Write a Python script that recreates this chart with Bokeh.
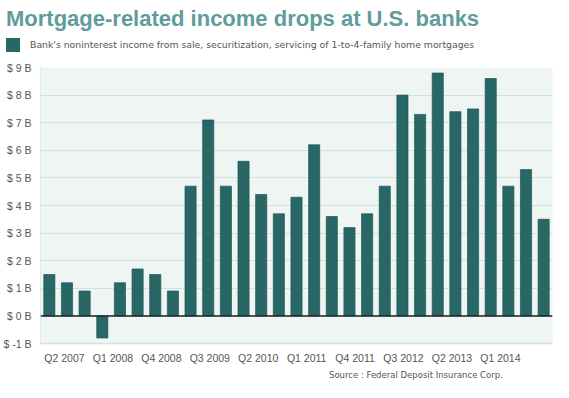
from bokeh.plotting import figure
from bokeh.models import ColumnDataSource, FixedTicker, Span, Div
from bokeh.layouts import column
from bokeh.embed import file_html
from bokeh.resources import INLINE

# ---- data ----
quarters = ["Q1 2007", "Q2 2007", "Q3 2007", "Q4 2007",
            "Q1 2008", "Q2 2008", "Q3 2008", "Q4 2008",
            "Q1 2009", "Q2 2009", "Q3 2009", "Q4 2009",
            "Q1 2010", "Q2 2010", "Q3 2010", "Q4 2010",
            "Q1 2011", "Q2 2011", "Q3 2011", "Q4 2011",
            "Q1 2012", "Q2 2012", "Q3 2012", "Q4 2012",
            "Q1 2013", "Q2 2013", "Q3 2013", "Q4 2013",
            "Q1 2014"]
income_billions = [1.5, 1.2, 0.9, -0.8,
                   1.2, 1.7, 1.5, 0.9,
                   4.7, 7.1, 4.7, 5.6,
                   4.4, 3.7, 4.3, 6.2,
                   3.6, 3.2, 3.7, 4.7,
                   8.0, 7.3, 8.8, 7.4,
                   7.5, 8.6, 4.7, 5.3,
                   3.5]
x_tick_labels = ["Q2 2007", "Q1 2008", "Q4 2008", "Q3 2009", "Q2 2010",
                 "Q1 2011", "Q4 2011", "Q3 2012", "Q2 2013", "Q1 2014"]
y_ticks = [-1, 0, 1, 2, 3, 4, 5, 6, 7, 8, 9]

title_text = "Mortgage-related income drops at U.S. banks"
legend_text = "Bank's noninterest income from sale, securitization, servicing of 1-to-4-family home mortgages"
source_text = "Source : Federal Deposit Insurance Corp."

# ---- layout / style constants ----
TICK_START = 0.86
TICK_STEP = 2.743
BAR = "#296666"
BG = "#eef5f2"
GRID = "#cfe3e0"
TEXT = "#555555"
W = 569

header = Div(
    text=(
        f'<div style="position:relative;width:{W}px;height:60px;">'
        f'<div style="position:absolute;left:6px;top:8px;white-space:nowrap;'
        f'font-family:\'Liberation Sans\',Arial,sans-serif;font-weight:bold;'
        f'font-size:22px;line-height:22px;color:#5f9c9c;">{title_text}</div>'
        f'<div style="position:absolute;left:6px;top:38px;width:14px;height:14px;'
        f'background:{BAR};"></div>'
        f'<div style="position:absolute;left:30px;top:39px;white-space:nowrap;'
        f'font-family:\'DejaVu Sans\',sans-serif;font-size:9.3px;line-height:12px;'
        f'color:{TEXT};">{legend_text}</div>'
        f'</div>'
    ),
    width=W, height=60, margin=0,
)

src = ColumnDataSource(dict(x=list(range(len(quarters))), q=quarters, v=income_billions))

p = figure(frame_width=512, frame_height=276, output_backend="svg", toolbar_location=None,
           x_range=(-0.5, len(quarters) - 0.5), y_range=(-1, 9),
           min_border_left=37, min_border_right=20, min_border_top=7,
           min_border_bottom=18, margin=0)
p.background_fill_color = BG
p.border_fill_color = "white"
p.outline_line_color = None

bars = p.vbar(x="x", top="v", bottom=0, width=0.63, source=src,
              fill_color=BAR, line_color="#1f5858", line_width=0.7)

zero = Span(location=0, dimension="width", line_color="#222222", line_width=1.5)
p.add_layout(zero)

# x axis
tick_pos = [TICK_START + TICK_STEP * i for i in range(len(x_tick_labels))]
p.xaxis.ticker = FixedTicker(ticks=tick_pos)
p.xaxis.major_label_overrides = {t: lab for t, lab in zip(tick_pos, x_tick_labels)}
p.xaxis.axis_line_color = GRID
p.xaxis.axis_line_width = 1.5
p.xaxis.major_tick_line_color = None
p.xaxis.minor_tick_line_color = None
p.xaxis.major_label_text_font = "Liberation Sans"
p.xaxis.major_label_text_font_size = "10.5px"
p.xaxis.major_label_text_color = TEXT
p.xaxis.major_label_standoff = 2
p.xgrid.grid_line_color = None

# y axis
p.yaxis.ticker = FixedTicker(ticks=y_ticks)
p.yaxis.major_label_overrides = {t: f"$ {t} B" for t in y_ticks}
p.yaxis.axis_line_color = GRID
p.yaxis.axis_line_alpha = 0.6
p.yaxis.major_tick_line_color = None
p.yaxis.minor_tick_line_color = None
p.yaxis.major_label_text_font = "Liberation Sans"
p.yaxis.major_label_text_font_size = "10.5px"
p.yaxis.major_label_text_color = TEXT
p.yaxis.major_label_standoff = 3
p.ygrid.grid_line_color = GRID
p.ygrid.grid_line_width = 1.2

footer = Div(
    text=(
        f'<div style="width:{W}px;height:30px;box-sizing:border-box;padding-top:2px;'
        f'padding-left:329px;white-space:nowrap;font-family:\'DejaVu Sans\',sans-serif;'
        f'font-size:8.5px;line-height:12px;color:{TEXT};">{source_text}</div>'
    ),
    width=W, height=30, margin=0,
)

layout = column(header, p, footer, spacing=0)

open("out.html", "w").write(file_html(layout, INLINE))
